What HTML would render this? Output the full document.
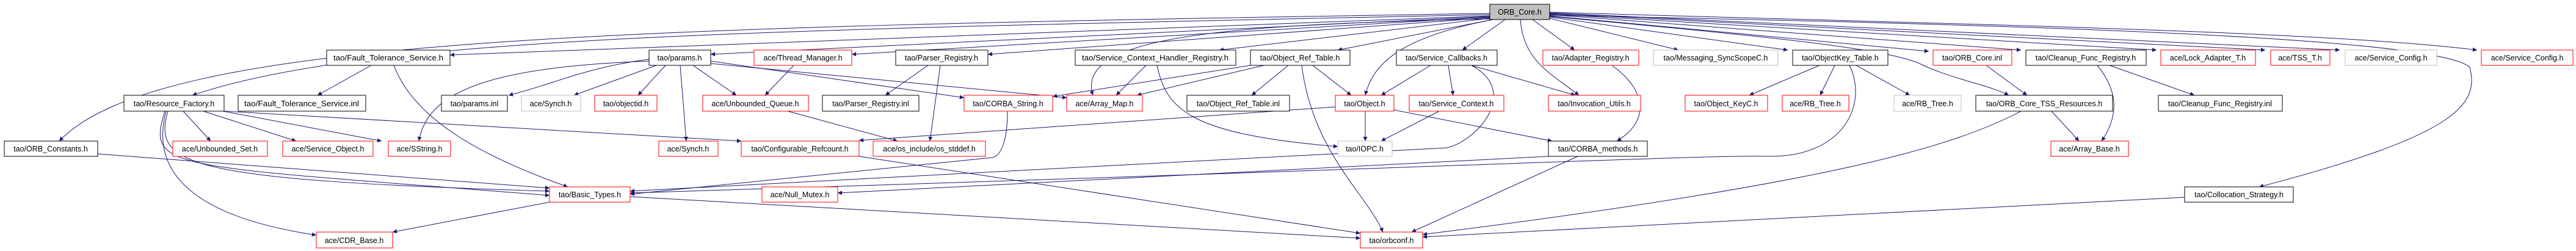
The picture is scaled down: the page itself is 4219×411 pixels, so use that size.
<!DOCTYPE html>
<html><head><meta charset="utf-8"><style>
html,body{margin:0;padding:0;background:#fff;}
svg{display:block;}
text{font-family:"Liberation Sans",sans-serif;font-size:12.5px;fill:#000;}
.e{fill:none;stroke:#191970;stroke-width:1;}
.k{fill:#fff;stroke:#000;stroke-width:1;}
.r{fill:#fff;stroke:#ff0000;stroke-width:1;}
.g{fill:#fff;stroke:#bfbfbf;stroke-width:1;}
</style></head><body>
<svg width="4219" height="411" viewBox="0 0 4219 411" xmlns="http://www.w3.org/2000/svg">
<defs><marker id="a" viewBox="0 0 10 10" refX="10" refY="5" markerWidth="10" markerHeight="7" markerUnits="userSpaceOnUse" orient="auto"><path d="M0,0 L10,5 L0,10 z" fill="#191970"/></marker></defs>
<g class="e" marker-end="url(#a)">
<path d="M2440,22 C1000,45 260,60 97,231"/>
<path d="M2440,24 C1200,50 600,60 315,156"/>
<path d="M2440,26 L737,90"/>
<path d="M2440,27 L1164,89"/>
<path d="M2440,28 L1395,89"/>
<path d="M2440,29 L1618,89"/>
<path d="M2440,30 L1997,82"/>
<path d="M2445,32 L2191,82"/>
<path d="M2465,32 L2395,82"/>
<path d="M2510,32 L2579,82"/>
<path d="M2538,30 L2749,82"/>
<path d="M2538,28 L2928,82"/>
<path d="M2538,26 L3159,84"/>
<path d="M2538,24 L3310,82"/>
<path d="M2538,23 L3532,82"/>
<path d="M2538,22 L3710,82"/>
<path d="M2538,21 L3832,82"/>
<path d="M2538,20 C3200,40 3800,50 4057,82"/>
<path d="M2445,32 C2300,60 2250,100 2236,156"/>
<path d="M2490,32 C2495,100 2540,120 2586,156"/>
<path d="M2440,31 C2000,40 1760,60 1790,156"/>
<path d="M2538,25 C3300,40 3990,60 4045,110 C4060,170 4030,220 3700,306"/>
<path d="M2538,27 C2900,60 3100,80 3150,107 C3200,130 3260,140 3290,156"/>
<path d="M2410,107 C2490,150 2420,230 2370,242 L1032,313"/>
<path d="M2536,256 L1372,316"/>
<path d="M3029,107 C3060,170 3020,256 2900,256 C2800,253 2500,270 1032,316"/>
<path d="M3578,323 L2330,388"/>
<path d="M3310,182 C3200,240 3000,300 2330,384"/>
<path d="M2584,256 L2312,380"/>
<path d="M2132,107 C2150,250 2240,320 2265,380"/>
<path d="M1032,322 L2228,390"/>
<path d="M1407,256 L2228,382"/>
<path d="M900,331 L643,380"/>
<path d="M300,182 L345,231"/>
<path d="M333,182 L485,231"/>
<path d="M365,182 L625,231"/>
<path d="M275,182 C250,270 300,295 900,313"/>
<path d="M270,182 C240,280 270,270 900,320"/>
<path d="M272,182 C240,300 350,360 518,385"/>
<path d="M367,182 L1214,231"/>
<path d="M160,252 L900,308"/>
<path d="M608,107 L520,156"/>
<path d="M645,107 C680,200 800,260 930,306"/>
<path d="M1063,97 C960,110 900,140 833,156"/>
<path d="M1075,107 L940,156"/>
<path d="M1090,107 L1045,156"/>
<path d="M1063,100 C800,110 700,150 686,231"/>
<path d="M1114,107 L1124,231"/>
<path d="M1135,107 L1206,156"/>
<path d="M1164,100 L1579,160"/>
<path d="M1164,104 L1747,160"/>
<path d="M1300,107 L1253,156"/>
<path d="M1520,107 L1450,156"/>
<path d="M1540,107 L1523,231"/>
<path d="M1290,182 L1470,231"/>
<path d="M1650,182 C1650,230 1640,255 1625,258 L1032,318"/>
<path d="M1877,107 L1828,156"/>
<path d="M1895,107 C1910,180 1950,220 2191,240"/>
<path d="M2048,107 L1724,158"/>
<path d="M2070,107 L1862,156"/>
<path d="M2110,107 L2050,156"/>
<path d="M2150,107 L2213,156"/>
<path d="M2343,107 L2262,156"/>
<path d="M2372,107 L2380,156"/>
<path d="M2410,107 L2580,156"/>
<path d="M2236,182 L2236,231"/>
<path d="M2283,180 L2542,231"/>
<path d="M2187,175 L1407,230"/>
<path d="M2357,182 L2262,231"/>
<path d="M2640,107 C2700,150 2700,200 2648,231"/>
<path d="M2980,107 L2865,156"/>
<path d="M3005,107 L2981,156"/>
<path d="M3040,107 L3128,156"/>
<path d="M3253,107 L3320,156"/>
<path d="M3435,107 C3470,150 3470,190 3442,231"/>
<path d="M3455,107 L3594,156"/>
<path d="M3360,182 L3405,231"/>
</g>
<g>
<rect class="k" x="2440" y="7" width="98" height="25" style="fill:#bfbfbf"/><text x="2489" y="24" text-anchor="middle">ORB_Core.h</text>
<rect class="k" x="535" y="82" width="202" height="25"/><text x="636" y="99" text-anchor="middle" textLength="180" lengthAdjust="spacingAndGlyphs">tao/Fault_Tolerance_Service.h</text>
<rect class="k" x="1063" y="82" width="101" height="25"/><text x="1113" y="99" text-anchor="middle">tao/params.h</text>
<rect class="r" x="1235" y="82" width="160" height="25"/><text x="1315" y="99" text-anchor="middle">ace/Thread_Manager.h</text>
<rect class="k" x="1467" y="82" width="151" height="25"/><text x="1542" y="99" text-anchor="middle">tao/Parser_Registry.h</text>
<rect class="k" x="1761" y="82" width="263" height="25"/><text x="1892" y="99" text-anchor="middle" textLength="240" lengthAdjust="spacingAndGlyphs">tao/Service_Context_Handler_Registry.h</text>
<rect class="k" x="2048" y="82" width="163" height="25"/><text x="2129" y="99" text-anchor="middle">tao/Object_Ref_Table.h</text>
<rect class="k" x="2287" y="82" width="165" height="25"/><text x="2369" y="99" text-anchor="middle">tao/Service_Callbacks.h</text>
<rect class="r" x="2527" y="82" width="157" height="25"/><text x="2605" y="99" text-anchor="middle">tao/Adapter_Registry.h</text>
<rect class="g" x="2708" y="82" width="204" height="25"/><text x="2810" y="99" text-anchor="middle">tao/Messaging_SyncScopeC.h</text>
<rect class="k" x="2936" y="82" width="156" height="25"/><text x="3014" y="99" text-anchor="middle">tao/ObjectKey_Table.h</text>
<rect class="r" x="3166" y="82" width="129" height="25"/><text x="3230" y="99" text-anchor="middle">tao/ORB_Core.inl</text>
<rect class="k" x="3318" y="82" width="197" height="25"/><text x="3416" y="99" text-anchor="middle">tao/Cleanup_Func_Registry.h</text>
<rect class="r" x="3539" y="82" width="155" height="25"/><text x="3616" y="99" text-anchor="middle">ace/Lock_Adapter_T.h</text>
<rect class="r" x="3719" y="82" width="97" height="25"/><text x="3767" y="99" text-anchor="middle">ace/TSS_T.h</text>
<rect class="g" x="3841" y="82" width="150" height="25"/><text x="3916" y="99" text-anchor="middle">ace/Service_Config.h</text>
<rect class="r" x="4064" y="82" width="150" height="25"/><text x="4139" y="99" text-anchor="middle">ace/Service_Config.h</text>

<rect class="k" x="203" y="156" width="164" height="26"/><text x="285" y="174" text-anchor="middle">tao/Resource_Factory.h</text>
<rect class="k" x="390" y="156" width="209" height="26"/><text x="494" y="174" text-anchor="middle" textLength="188" lengthAdjust="spacingAndGlyphs">tao/Fault_Tolerance_Service.inl</text>
<rect class="k" x="723" y="156" width="108" height="26"/><text x="777" y="174" text-anchor="middle">tao/params.inl</text>
<rect class="g" x="854" y="156" width="97" height="26"/><text x="902" y="174" text-anchor="middle">ace/Synch.h</text>
<rect class="r" x="974" y="156" width="102" height="26"/><text x="1025" y="174" text-anchor="middle">tao/objectid.h</text>
<rect class="r" x="1151" y="156" width="173" height="26"/><text x="1237" y="174" text-anchor="middle">ace/Unbounded_Queue.h</text>
<rect class="k" x="1347" y="156" width="158" height="26"/><text x="1426" y="174" text-anchor="middle">tao/Parser_Registry.inl</text>
<rect class="r" x="1579" y="156" width="145" height="26"/><text x="1651" y="174" text-anchor="middle">tao/CORBA_String.h</text>
<rect class="r" x="1747" y="156" width="124" height="26"/><text x="1809" y="174" text-anchor="middle">ace/Array_Map.h</text>
<rect class="k" x="1944" y="156" width="168" height="26"/><text x="2028" y="174" text-anchor="middle">tao/Object_Ref_Table.inl</text>
<rect class="r" x="2187" y="156" width="96" height="26"/><text x="2235" y="174" text-anchor="middle">tao/Object.h</text>
<rect class="r" x="2308" y="156" width="155" height="26"/><text x="2385" y="174" text-anchor="middle">tao/Service_Context.h</text>
<rect class="r" x="2536" y="156" width="151" height="26"/><text x="2611" y="174" text-anchor="middle">tao/Invocation_Utils.h</text>
<rect class="r" x="2760" y="156" width="135" height="26"/><text x="2827" y="174" text-anchor="middle">tao/Object_KeyC.h</text>
<rect class="r" x="2919" y="156" width="109" height="26"/><text x="2973" y="174" text-anchor="middle">ace/RB_Tree.h</text>
<rect class="g" x="3102" y="156" width="110" height="26"/><text x="3157" y="174" text-anchor="middle">ace/RB_Tree.h</text>
<rect class="k" x="3236" y="156" width="224" height="26"/><text x="3348" y="174" text-anchor="middle">tao/ORB_Core_TSS_Resources.h</text>
<rect class="k" x="3535" y="156" width="203" height="26"/><text x="3636" y="174" text-anchor="middle">tao/Cleanup_Func_Registry.inl</text>

<rect class="k" x="7" y="231" width="153" height="25"/><text x="83" y="248" text-anchor="middle">tao/ORB_Constants.h</text>
<rect class="r" x="283" y="231" width="155" height="25"/><text x="360" y="248" text-anchor="middle">ace/Unbounded_Set.h</text>
<rect class="r" x="463" y="231" width="148" height="25"/><text x="537" y="248" text-anchor="middle">ace/Service_Object.h</text>
<rect class="r" x="636" y="231" width="102" height="25"/><text x="687" y="248" text-anchor="middle">ace/SString.h</text>
<rect class="r" x="1079" y="231" width="97" height="25"/><text x="1127" y="248" text-anchor="middle">ace/Synch.h</text>
<rect class="r" x="1214" y="231" width="193" height="25"/><text x="1310" y="248" text-anchor="middle">tao/Configurable_Refcount.h</text>
<rect class="r" x="1430" y="231" width="184" height="25"/><text x="1522" y="248" text-anchor="middle">ace/os_include/os_stddef.h</text>
<rect class="g" x="2191" y="231" width="89" height="25"/><text x="2235" y="248" text-anchor="middle">tao/IOPC.h</text>
<rect class="k" x="2536" y="231" width="162" height="25"/><text x="2617" y="248" text-anchor="middle">tao/CORBA_methods.h</text>
<rect class="r" x="3359" y="231" width="127" height="25"/><text x="3422" y="248" text-anchor="middle">ace/Array_Base.h</text>

<rect class="r" x="900" y="306" width="132" height="25"/><text x="966" y="323" text-anchor="middle">tao/Basic_Types.h</text>
<rect class="r" x="1248" y="306" width="124" height="25"/><text x="1310" y="323" text-anchor="middle">ace/Null_Mutex.h</text>
<rect class="k" x="3578" y="306" width="178" height="25"/><text x="3667" y="323" text-anchor="middle">tao/Collocation_Strategy.h</text>

<rect class="r" x="518" y="380" width="125" height="26"/><text x="580" y="398" text-anchor="middle">ace/CDR_Base.h</text>
<rect class="r" x="2228" y="380" width="102" height="26"/><text x="2279" y="398" text-anchor="middle">tao/orbconf.h</text>
</g>
</svg>
</body></html>
